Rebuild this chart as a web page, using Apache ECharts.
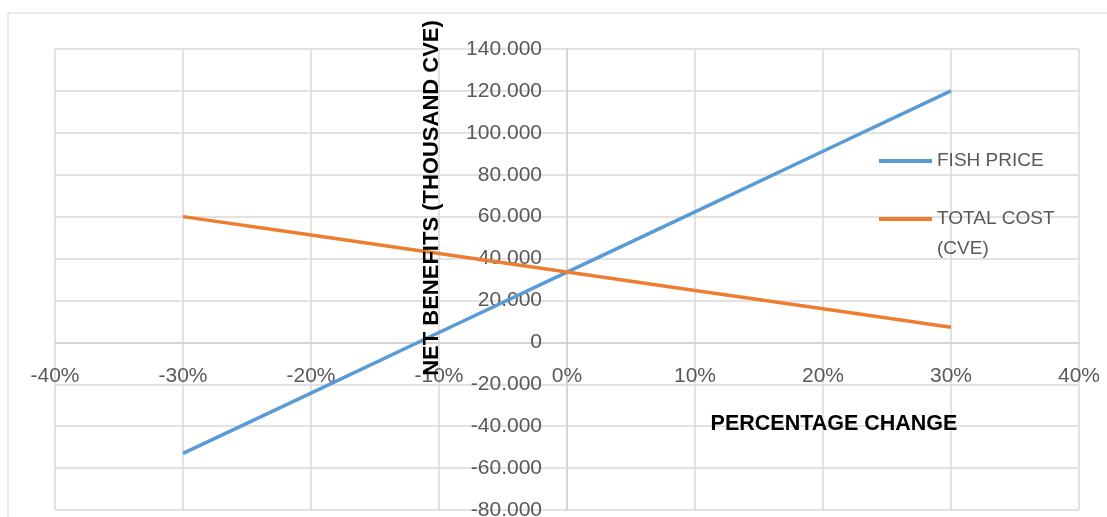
<!DOCTYPE html>
<html><head><meta charset="utf-8">
<script src="https://cdn.jsdelivr.net/npm/echarts@6/dist/echarts.min.js"></script>
<style>html,body{margin:0;padding:0;background:#fff}#c{width:1107px;height:517px}</style>
</head><body><div id="c"></div>
<script>
const pctChange = [-30, -20, -10, 0, 10, 20, 30];
const fishPrice = [-53, -24.2, 4.7, 33.5, 62.3, 91.2, 120];
const totalCost = [60, 51.2, 42.4, 33.6, 24.8, 16, 7.2];
const seriesNames = ['FISH PRICE', 'TOTAL COST\n(CVE)'];
const xTitle = 'PERCENTAGE CHANGE';
const yTitle = 'NET BENEFITS (THOUSAND CVE)';

const FONT = '"Liberation Sans", Arial, sans-serif';
const GRID = {left: 55, right: 28, top: 49, bottom: 7};
const X_MIN = -40, X_MAX = 40, Y_MIN = -80, Y_MAX = 140;
const W = 1107, H = 517;
const plotW = W - GRID.left - GRID.right, plotH = H - GRID.top - GRID.bottom;
// shift axes so they cross at the zero lines (as in the reference)
const xAxisOffset = -plotH * (0 - Y_MIN) / (Y_MAX - Y_MIN);
const yAxisOffset = -plotW * (0 - X_MIN) / (X_MAX - X_MIN);

const chart = echarts.init(document.getElementById('c'), null, {renderer: 'canvas'});
chart.setOption({
  animation: false,
  backgroundColor: '#fff',
  grid: Object.assign({containLabel: false, outerBoundsMode: 'none'}, GRID),
  xAxis: {
    type: 'value', min: X_MIN, max: X_MAX, interval: 10, position: 'bottom', offset: xAxisOffset,
    axisLine: {onZero: false, lineStyle: {color: '#d0d0d0', width: 1.5}},
    axisTick: {show: false},
    axisLabel: {formatter: v => v + '%', color: '#595959', fontFamily: FONT, fontSize: 21, margin: 23},
    splitLine: {lineStyle: {color: '#d9d9d9', width: 1.5}}
  },
  yAxis: {
    type: 'value', min: Y_MIN, max: Y_MAX, interval: 20, position: 'left', offset: yAxisOffset,
    axisLine: {show: true, onZero: false, lineStyle: {color: '#d0d0d0', width: 1.5}},
    axisTick: {show: false},
    axisLabel: {formatter: v => v === 0 ? '0' : v + '.000', color: '#595959', fontFamily: FONT, fontSize: 21, margin: 25},
    splitLine: {lineStyle: {color: '#d9d9d9', width: 1.5}}
  },
  legend: {
    orient: 'vertical', left: 879, top: 146, padding: 0, itemWidth: 53, itemHeight: 4, itemGap: -2,
    textStyle: {color: '#595959', fontFamily: FONT, fontSize: 19, lineHeight: 30},
    formatter: name => name.indexOf('\n') >= 0 ? '\n' + name : name,
    data: seriesNames.map(n => ({name: n, icon: 'rect'}))
  },
  graphic: [
    {type: 'rect', shape: {x: 8, y: 13, width: 1200, height: 600}, style: {fill: 'none', stroke: '#d9d9d9', lineWidth: 1}, z: -1},
    {type: 'text', x: 432, y: 198, rotation: Math.PI/2, style: {text: yTitle, fill: '#000', font: 'bold 22px ' + FONT, align: 'center', verticalAlign: 'middle'}, z: 10},
    {type: 'text', x: 834, y: 424, style: {text: xTitle, fill: '#000', font: 'bold 21.5px ' + FONT, align: 'center', verticalAlign: 'middle'}, z: 10}
  ],
  series: [
    {name: seriesNames[0], type: 'line', symbol: 'none', data: pctChange.map((x, i) => [x, fishPrice[i]]),
     lineStyle: {color: '#5B9BD5', width: 3.5}, itemStyle: {color: '#5B9BD5'}},
    {name: seriesNames[1], type: 'line', symbol: 'none', data: pctChange.map((x, i) => [x, totalCost[i]]),
     lineStyle: {color: '#ED7D31', width: 3.5}, itemStyle: {color: '#ED7D31'}}
  ]
});
</script></body></html>
